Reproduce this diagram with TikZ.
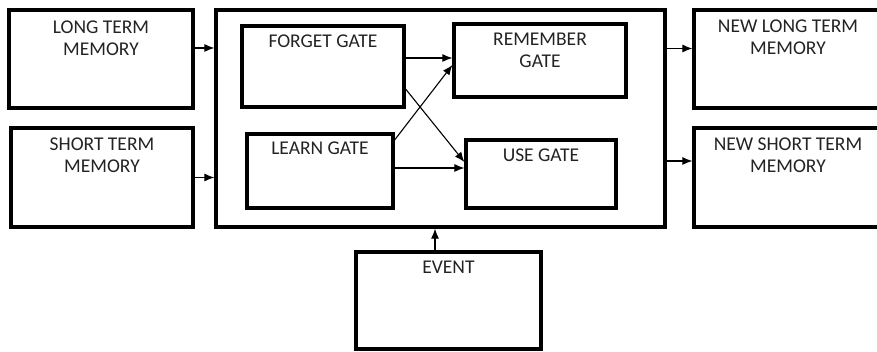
\documentclass[tikz,border=0pt]{standalone}
\usepackage{fontspec}
\setmainfont{Carlito}
\usetikzlibrary{arrows.meta}
\definecolor{txtc}{RGB}{35,35,35}
\begin{document}
\begin{tikzpicture}[x=1pt,y=-1pt,
  box/.style={draw, line width=3.2pt, rectangle, inner sep=0pt},
  lbl/.style={anchor=north, inner sep=0pt, align=center, font=\fontsize{19.5}{22}\selectfont, text=txtc},
  arr/.style={line width=1.1pt, -{Latex[length=10pt,width=8pt]}}]
\useasboundingbox (0,0) rectangle (877,352);
\clip (0,0) rectangle (877,352);
% boxes
\node[box, minimum width=184pt, minimum height=98pt] (ltm) at (101,59) {};
\node[box, minimum width=182pt, minimum height=99pt] (stm) at (102,177.5) {};
\node[box, minimum width=449pt, minimum height=217pt] (main) at (440.5,118.5) {};
\node[box, minimum width=162pt, minimum height=81pt] (forget) at (323,66.5) {};
\node[box, minimum width=146pt, minimum height=74pt] (learn) at (320,171) {};
\node[box, minimum width=172pt, minimum height=73pt] (remember) at (540,60.5) {};
\node[box, minimum width=150pt, minimum height=68pt] (use) at (541,174) {};
\node[box, minimum width=188pt, minimum height=98pt] (nltm) at (788,59) {};
\node[box, minimum width=188pt, minimum height=99pt] (nstm) at (788,177.5) {};
\node[box, minimum width=185pt, minimum height=97pt] (event) at (448.5,300.5) {};
% labels
\node[lbl] (ltmt) at ([yshift=-12pt]ltm.north) {LONG TERM\\MEMORY};
\node[lbl] (stmt) at ([yshift=-11pt]stm.north) {SHORT TERM\\MEMORY};
\node[lbl] (forgett) at ([yshift=-10pt]forget.north) {FORGET GATE};
\node[lbl] (learnt) at ([yshift=-9pt]learn.north) {LEARN GATE};
\node[lbl] (remembert) at ([yshift=-10pt]remember.north) {REMEMBER\\GATE};
\node[lbl] (uset) at ([yshift=-10pt]use.north) {USE GATE};
\node[lbl] (nltmt) at ([yshift=-11pt]nltm.north) {NEW LONG TERM\\MEMORY};
\node[lbl] (nstmt) at ([yshift=-11pt]nstm.north) {NEW SHORT TERM\\MEMORY};
\node[lbl] (eventt) at ([yshift=-10pt]event.north) {EVENT};
% connectors
\draw[arr] ([yshift=11pt]ltm.east) -- ([yshift=11pt]ltm.east -| main.west);
\draw[arr] (stm.east) -- (stm.east -| main.west);
\draw[arr] ([yshift=10.5pt]nltm.west -| main.east) -- ([yshift=10.5pt]nltm.west);
\draw[arr] ([yshift=16.5pt]nstm.west -| main.east) -- ([yshift=16.5pt]nstm.west);
\draw[arr] ([xshift=-13.5pt]event.north) -- ([xshift=-13.5pt]event.north |- main.south);
\draw[arr] ([yshift=8.5pt]forget.east) -- ([yshift=8.5pt]forget.east -| remember.west);
\draw[arr] ([yshift=-22.5pt]forget.east) -- ([yshift=12pt]use.west);
\draw[arr] ([yshift=31pt]learn.east) -- ([yshift=-4.5pt]remember.west);
\draw[arr] ([yshift=3pt]learn.east) -- ([yshift=3pt]learn.east -| use.west);
\end{tikzpicture}
\end{document}
